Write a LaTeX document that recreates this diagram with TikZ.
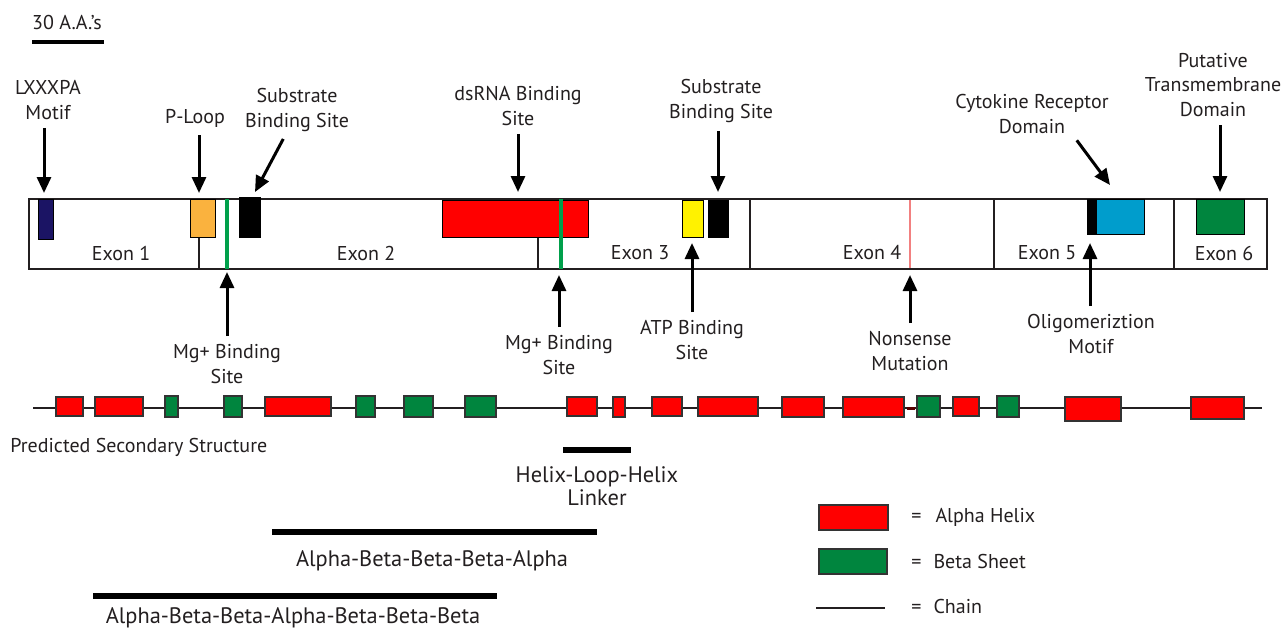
\documentclass[tikz,border=0pt]{standalone}
\usepackage{fontspec}
\setmainfont{PT Sans}
\usetikzlibrary{positioning,arrows.meta}
\definecolor{helixred}{RGB}{255,0,0}
\definecolor{sheetgreen}{RGB}{0,133,62}
\definecolor{mggreen}{RGB}{0,160,75}
\definecolor{motifnavy}{RGB}{27,20,100}
\definecolor{ploopgold}{RGB}{250,178,62}
\definecolor{atpyellow}{RGB}{255,242,0}
\definecolor{cytoblue}{RGB}{0,157,204}
\definecolor{nonsensepink}{RGB}{242,128,128}
\definecolor{linkerred}{RGB}{90,0,0}
\definecolor{inkgray}{RGB}{35,31,32}

\begin{document}
\begin{tikzpicture}[x=0.5pt,y=-0.5pt,
    lbl/.style={font=\fontsize{10}{12.25}\selectfont, align=center, text=inkgray, inner sep=0pt},
    spanlbl/.style={lbl, font=\fontsize{11.2}{11.75}\selectfont},
    pointer/.style={line width=1.5pt, shorten <=4pt, -{Triangle[width=7pt,length=8pt]}},
    domainbox/.style={draw=black, line width=0.5pt},
    ssbox/.style={draw=black!80, line width=0.6pt},
    bar/.style={line width=3pt}]
    \useasboundingbox (0,0) rectangle (1286,628);

    % Scale bar
    \node[lbl] (scalelbl) at (67,22) {30 A.A.'s};
    \draw[line width=2pt] (32,42) -- (104,42);

    % Exon strip
    \draw[line width=0.75pt, inkgray] (29,199) rectangle (1267,269);
    \foreach \x in {199,538,750,994,1174}
        \draw[line width=0.75pt, inkgray] (\x,199) -- (\x,269);

    % Domains on the strip
    \filldraw[domainbox, fill=motifnavy] (38,199) rectangle (53,239);
    \filldraw[domainbox, fill=ploopgold] (190,199) rectangle (215,237);
    \filldraw[domainbox, fill=black] (239,197) rectangle (260,237);
    \filldraw[domainbox, fill=helixred] (442,200) rectangle (588,237);
    \filldraw[domainbox, fill=atpyellow] (682,200) rectangle (703,237);
    \filldraw[domainbox, fill=black] (708,200) rectangle (728,237);
    \filldraw[domainbox, fill=black] (1087,199) rectangle (1096,234);
    \filldraw[domainbox, fill=cytoblue] (1096,199) rectangle (1144,234);
    \filldraw[domainbox, fill=sheetgreen] (1196,199) rectangle (1244,234);
    \draw[line width=2pt, mggreen] (227,199) -- (227,269);
    \draw[line width=2pt, mggreen] (561,199) -- (561,269);
    \draw[line width=1pt, nonsensepink] (910,200) -- (910,268);

    \foreach \n/\x in {1/121, 2/366, 3/640, 4/872, 5/1047, 6/1224}
        \node[lbl] (exon\n) at (\x,253) {Exon \n};

    % Arrow tips
    \coordinate (LXXXPA) at (44,193);
    \coordinate (PLoop) at (199,193);
    \coordinate (SubA) at (255,192);
    \coordinate (dsRNA) at (518,192);
    \coordinate (SubB) at (718,192);
    \coordinate (Cyto) at (1110,185);
    \coordinate (TM) at (1220,192);
    \coordinate (MgA) at (227,272);
    \coordinate (MgB) at (559,275);
    \coordinate (ATP) at (692,243);
    \coordinate (Nonsense) at (910,275);
    \coordinate (Oligo) at (1090,243);

    % Labels above
    \node[lbl] (lxxxpaLbl) at (48,100) {LXXXPA\\Motif};
    \node[lbl] (ploopLbl) at (195,118) {P-Loop};
    \node[lbl] (subALbl) at (297,110) {Substrate\\Binding Site};
    \node[lbl] (dsrnaLbl) at (518,106) {dsRNA Binding\\Site};
    \node[lbl] (subBLbl) at (721,101) {Substrate\\Binding Site};
    \node[lbl] (cytoLbl) at (1032,114) {Cytokine Receptor\\Domain};
    \node[lbl] (tmLbl) at (1213,85) {Putative\\Transmembrane\\Domain};

    % Labels below
    \node[lbl] (mgALbl) at (227,364) {Mg+ Binding\\Site};
    \node[lbl] (mgBLbl) at (559,355) {Mg+ Binding\\Site};
    \node[lbl] (atpLbl) at (692,340) {ATP Binding\\Site};
    \node[lbl] (nonsenseLbl) at (910,351) {Nonsense\\Mutation};
    \node[lbl] (oligoLbl) at (1091,334) {Oligomeriztion\\Motif};

    % Pointers
    \draw[pointer] (LXXXPA |- lxxxpaLbl.south) -- (LXXXPA);
    \draw[pointer] (PLoop |- ploopLbl.south) -- (PLoop);
    \draw[pointer] ([xshift=-5]subALbl.south) -- (SubA);
    \draw[pointer] (dsRNA |- dsrnaLbl.south) -- (dsRNA);
    \draw[pointer] (SubB |- subBLbl.south) -- (SubB);
    \draw[pointer] ([shift={(40,0)}]cytoLbl.south) -- (Cyto);
    \draw[pointer] (TM |- tmLbl.south) -- (TM);
    \draw[pointer] (MgA |- mgALbl.north) -- (MgA);
    \draw[pointer] (MgB |- mgBLbl.north) -- (MgB);
    \draw[pointer] (ATP |- atpLbl.north) -- (ATP);
    \draw[pointer] (Nonsense |- nonsenseLbl.north) -- (Nonsense);
    \draw[pointer] (Oligo |- oligoLbl.north) -- (Oligo);

    % Predicted secondary structure
    \draw[line width=0.75pt, inkgray] (33,408) -- (1262,408);
    \foreach \a/\b/\c in {56/83/416, 95/143/416, 265/331/416, 567/597/416, 613/625/417,
        652/682/416, 698/758/416, 782/824/417, 843/904/417, 953/979/416,
        1065/1121/421, 1191/1244/419}
        \filldraw[ssbox, fill=helixred] (\a,397) rectangle (\b,\c);
    \foreach \a/\b in {165/178, 224/242, 356/375, 404/433, 465/496, 917/940, 997/1019}
        \filldraw[ssbox, fill=sheetgreen] (\a,396) rectangle (\b,417);
    \draw[line width=1.5pt, linkerred] (907,408) -- (915,408);
    \node[lbl, anchor=west] (predLbl) at (10,447) {Predicted Secondary Structure};

    % Motif spans
    \draw[bar] (563,450) -- (631,450);
    \node[spanlbl] (hlhLbl) at (597,486) {Helix-Loop-Helix\\Linker};
    \draw[bar] (272,532) -- (597,532);
    \node[spanlbl] (abbbaLbl) at (432,561) {Alpha-Beta-Beta-Beta-Alpha};
    \draw[bar] (93,596) -- (497,596);
    \node[spanlbl] (abbabbbLbl) at (293,618) {Alpha-Beta-Beta-Alpha-Beta-Beta-Beta};

    % Key
    \filldraw[ssbox, fill=helixred] (819,505) rectangle (888,530);
    \filldraw[ssbox, fill=sheetgreen] (819,549) rectangle (887,574);
    \draw[line width=0.75pt, inkgray] (816,608) -- (885,608);
    \node[lbl, anchor=west] (keyHelix) at (911,517) {=\hspace{7pt}Alpha Helix};
    \node[lbl, anchor=west] (keySheet) at (911,561) {=\hspace{6pt}Beta Sheet};
    \node[lbl, anchor=west] (keyChain) at (911,606) {=\hspace{6pt}Chain};
\end{tikzpicture}
\end{document}
